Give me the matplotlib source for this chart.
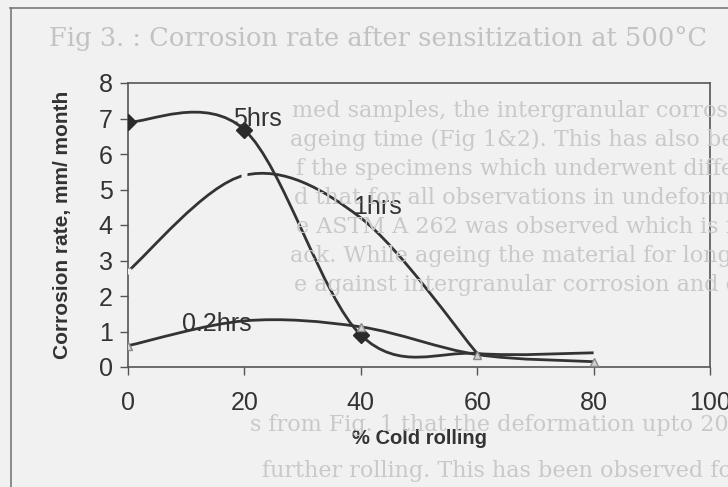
import numpy as np
import matplotlib
matplotlib.use('Agg')
import matplotlib.pyplot as plt
from matplotlib.path import Path
from matplotlib.patches import PathPatch
from matplotlib.lines import Line2D

# data (nan = no point)
pct_cold = [0, 20, 40, 60, 80]
rate_5h = [6.9, 6.68, 0.9, 0.38, 0.4]
rate_1h = [2.7, 5.4, 4.2, 0.38, np.nan]
rate_02h = [0.6, 1.3, 1.13, 0.35, 0.15]
series_names = ['5hrs', '1hrs', '0.2hrs']
label_pos = [(22.2, 7.0), (42.8, 4.5), (15.3, 1.2)]
x_ticks = [0, 20, 40, 60, 80, 100]
y_ticks = [0, 1, 2, 3, 4, 5, 6, 7, 8]

caption = 'Fig 3. : Corrosion rate after sensitization at 500°C'
# faint text showing through from the scanned page: (x px, y px, text)
bleed_lines = [
    (292, 111, 'med samples, the intergranular corrosion was found to'),
    (290, 140, 'ageing time (Fig 1&2). This has also been confirmed b'),
    (296, 169, 'f the specimens which underwent different heat treat'),
    (294, 198, 'd that for all observations in undeformed samples, du'),
    (296, 227, 'e ASTM A 262 was observed which is not a clear e'),
    (290, 256, 'ack. While ageing the material for long time (e.g. 24'),
    (294, 285, 'e against intergranular corrosion and delineates th'),
    (250, 425, 's from Fig. 1 that the deformation upto 20% increases i'),
    (262, 471, 'further rolling. This has been observed for the ageing t'),
]

PAPER = '#f1f1f1'
INK = '#333333'
GHOST = '#c9c9c9'
W, H = 728, 487


def smooth_path(xs, ys):
    # Excel-like smoothed line: Catmull-Rom segments as cubic Bezier
    pts = np.column_stack([xs, ys]).astype(float)
    pts = pts[~np.isnan(pts[:, 1])]
    n = len(pts)
    verts, codes = [pts[0]], [Path.MOVETO]
    for i in range(n - 1):
        p0, p1 = pts[max(i - 1, 0)], pts[i]
        p2, p3 = pts[i + 1], pts[min(i + 2, n - 1)]
        verts += [p1 + (p2 - p0) / 6, p2 - (p3 - p1) / 6, p2]
        codes += [Path.CURVE4] * 3
    return Path(verts, codes)


fig = plt.figure(figsize=(W / 100, H / 100), dpi=100, facecolor=PAPER)

fig.text(378 / W, 1 - 38 / H, caption, ha='center', va='center', fontsize=18.5,
         family='DejaVu Serif', color='#c2c2c2', zorder=0)
for px, py, s in bleed_lines:
    fig.text(px / W, 1 - py / H, s, ha='left', va='center', fontsize=16,
             family='DejaVu Serif', color=GHOST, zorder=0)

# page frame lines
fig.add_artist(Line2D([10 / W, 1], [1 - 8 / H, 1 - 8 / H], color='#7a7a7a', lw=1.2))
fig.add_artist(Line2D([11 / W, 11 / W], [0, 1 - 8 / H], color='#7a7a7a', lw=1.2))

ax = fig.add_axes([128 / W, 1 - 367 / H, (710 - 128) / W, (367 - 83) / H])
ax.set_facecolor('none')

for ys in [rate_5h, rate_1h, rate_02h]:
    ax.add_patch(PathPatch(smooth_path(pct_cold, ys), fill=False, ec=INK, lw=2.0, zorder=3))

ax.plot(pct_cold[:3], rate_5h[:3], ls='none', marker='D', ms=8.5, mfc='#2a2a2a', mec='#2a2a2a', zorder=4)
ax.plot(pct_cold[:2], rate_1h[:2], ls='none', marker='s', ms=4, mfc=PAPER, mec='none', zorder=4)
ax.plot([pct_cold[0], pct_cold[2], pct_cold[3], pct_cold[4]],
        [rate_02h[0], rate_02h[2], rate_02h[3], rate_02h[4]],
        ls='none', marker='^', ms=6, mfc='#d2d2d2', mec='#8a8a8a', zorder=4)

for name, (lx, ly) in zip(series_names, label_pos):
    ax.text(lx, ly, name, ha='center', va='center', fontsize=18,
            family='Liberation Sans', color=INK, zorder=5)

ax.set_xlim(0, 100)
ax.set_ylim(0, 8)
ax.set_xticks(x_ticks)
ax.set_yticks(y_ticks)
ax.tick_params(axis='both', direction='out', length=6, width=1, color='#555555',
               labelsize=18, labelcolor=INK)
ax.tick_params(axis='x', pad=11)
ax.tick_params(axis='y', pad=5)
for lab in ax.get_xticklabels() + ax.get_yticklabels():
    lab.set_family('Liberation Sans')
for sp in ax.spines.values():
    sp.set_color('#555555')
    sp.set_linewidth(1.2)

ax.set_xlabel('% Cold rolling', fontsize=14.5, fontweight='bold', family='Liberation Sans',
              color=INK, labelpad=10)
ax.set_ylabel('Corrosion rate, mm/ month', fontsize=15, fontweight='bold',
              family='Liberation Sans', color=INK, labelpad=19)

fig.savefig('out.png', dpi=100, facecolor=PAPER)
